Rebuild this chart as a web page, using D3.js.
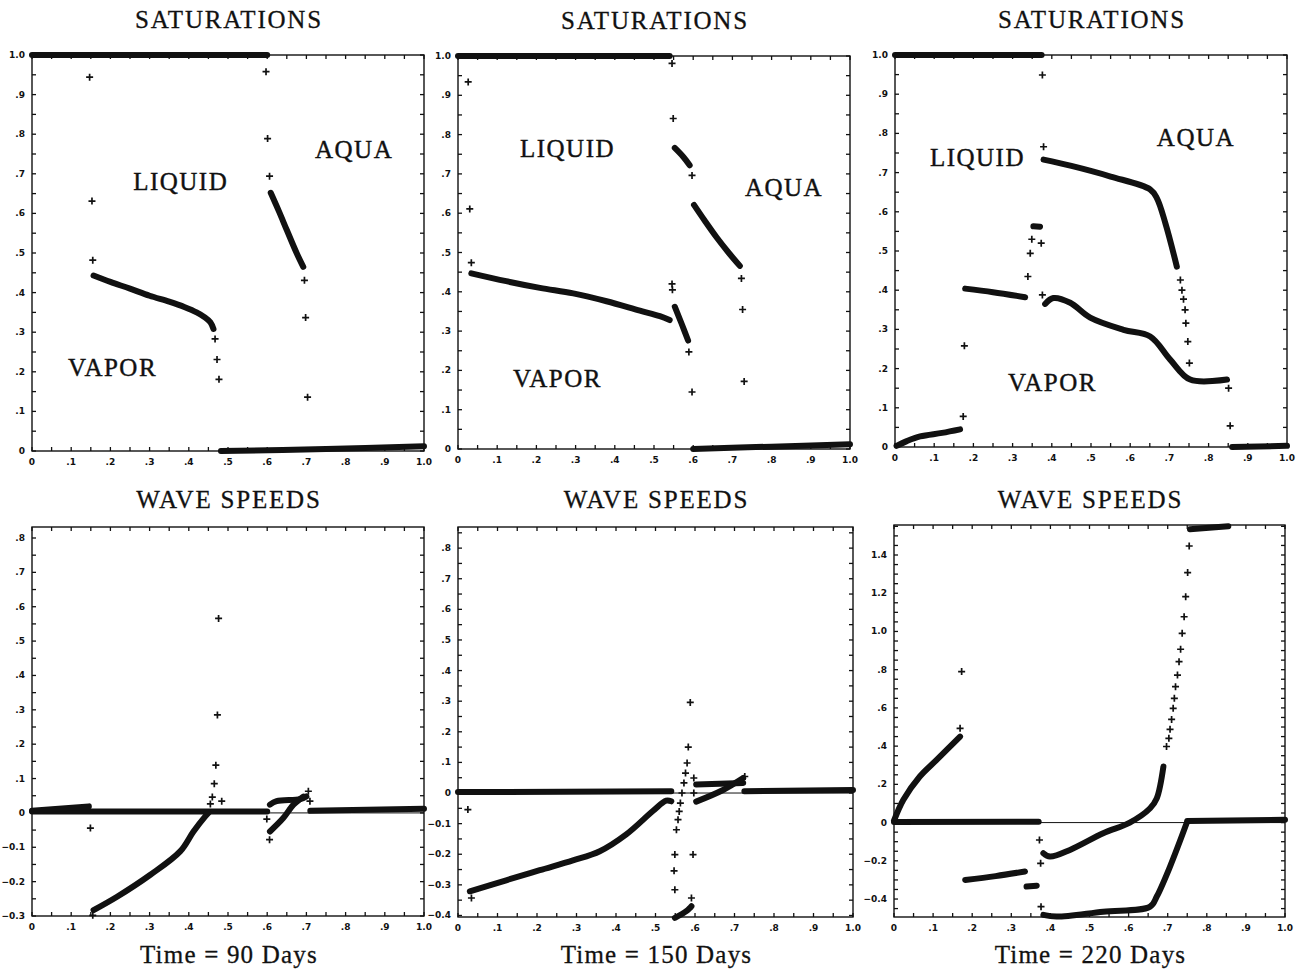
<!DOCTYPE html>
<html>
<head>
<meta charset="utf-8">
<script src="https://cdn.jsdelivr.net/npm/d3@7"></script>
<style>
  body { margin: 0; background: #fff; }
  text { fill: #111; }
</style>
</head>
<body>
<script>
// ---- data ----
// saturations, 90 days
var sat90Top = [[0, 1.0], [0.30, 1.0], [0.60, 1.0]];
var sat90Bottom = [[0.482, 0.0], [0.75, 0.005], [1.0, 0.012]];
var sat90Vapor = [[0.157, 0.443], [0.2, 0.427], [0.25, 0.41], [0.3, 0.392], [0.35, 0.377], [0.39, 0.363], [0.42, 0.35], [0.44, 0.338], [0.455, 0.325], [0.463, 0.308]];
var sat90Aqua = [[0.609, 0.652], [0.63, 0.605], [0.65, 0.558], [0.675, 0.50], [0.692, 0.465]];
var sat90Marks = [[0.147, 0.944], [0.153, 0.631], [0.155, 0.482], [0.467, 0.283], [0.472, 0.231], [0.477, 0.181], [0.597, 0.958], [0.601, 0.789], [0.606, 0.694], [0.695, 0.431], [0.698, 0.337], [0.703, 0.136]];

// saturations, 150 days
var sat150Top = [[0, 1.0], [0.54, 1.0]];
var sat150Bottom = [[0.60, 0.0], [0.8, 0.006], [1.0, 0.012]];
var sat150Vapor = [[0.034, 0.447], [0.123, 0.427], [0.209, 0.41], [0.294, 0.396], [0.379, 0.376], [0.464, 0.352], [0.515, 0.338], [0.54, 0.328]];
var sat150Mid = [[0.553, 0.362], [0.57, 0.32], [0.587, 0.276]];
var sat150Liquid = [[0.553, 0.766], [0.575, 0.743], [0.591, 0.722]];
var sat150Aqua = [[0.602, 0.621], [0.63, 0.58], [0.66, 0.538], [0.69, 0.5], [0.719, 0.466]];
var sat150Marks = [[0.026, 0.934], [0.030, 0.611], [0.034, 0.474], [0.546, 0.981], [0.549, 0.841], [0.546, 0.42], [0.547, 0.405], [0.589, 0.247], [0.597, 0.145], [0.597, 0.696], [0.723, 0.434], [0.726, 0.355], [0.730, 0.172]];

// saturations, 220 days
var sat220Top = [[0, 1.0], [0.374, 1.0]];
var sat220Bottom = [[0.86, 0.0], [1.0, 0.003]];
var sat220Low = [[0.004, 0.003], [0.03, 0.015], [0.064, 0.027], [0.12, 0.036], [0.166, 0.045]];
var sat220Vapor1 = [[0.179, 0.404], [0.25, 0.395], [0.332, 0.382]];
var sat220Blob = [[0.353, 0.563], [0.370, 0.562]];
var sat220Liquid = [[0.379, 0.733], [0.45, 0.717], [0.55, 0.69], [0.651, 0.657], [0.668, 0.635], [0.69, 0.57], [0.719, 0.46]];
var sat220Vapor2 = [[0.383, 0.365], [0.404, 0.38], [0.447, 0.368], [0.498, 0.33], [0.583, 0.299], [0.651, 0.282], [0.702, 0.223], [0.753, 0.172], [0.847, 0.172]];
var sat220Marks = [[0.174, 0.078], [0.177, 0.258], [0.339, 0.435], [0.345, 0.494], [0.349, 0.53], [0.373, 0.52], [0.376, 0.388], [0.376, 0.949], [0.379, 0.766], [0.728, 0.426], [0.732, 0.40], [0.736, 0.377], [0.740, 0.350], [0.742, 0.316], [0.747, 0.269], [0.751, 0.214], [0.851, 0.150], [0.855, 0.054]];

// wave speeds, 90 days
var ws90Base = [[0, 0.004], [0.6, 0.004]];
var ws90Wedge = [[0, 0.006], [0.145, 0.019]];
var ws90Right = [[0.71, 0.006], [1.0, 0.012]];
var ws90Curve = [[0.157, -0.283], [0.217, -0.244], [0.302, -0.18], [0.378, -0.112], [0.412, -0.054], [0.442, -0.01], [0.45, 0.0]];
var ws90Upper = [[0.607, 0.024], [0.624, 0.034], [0.684, 0.04], [0.70, 0.048]];
var ws90Lower = [[0.607, -0.054], [0.641, -0.015], [0.667, 0.024], [0.692, 0.047]];
var ws90Marks = [[0.149, -0.044], [0.155, -0.298], [0.476, 0.566], [0.473, 0.285], [0.469, 0.139], [0.465, 0.085], [0.46, 0.046], [0.455, 0.026], [0.484, 0.034], [0.599, -0.018], [0.606, -0.078], [0.705, 0.063], [0.709, 0.034]];

// wave speeds, 150 days
var ws150Base = [[0, 0.003], [0.54, 0.006]];
var ws150Right = [[0.725, 0.006], [1.0, 0.01]];
var ws150Curve = [[0.030, -0.321], [0.122, -0.285], [0.207, -0.252], [0.291, -0.22], [0.359, -0.19], [0.426, -0.135], [0.494, -0.058], [0.527, -0.025], [0.54, -0.027]];
var ws150Low = [[0.549, -0.408], [0.578, -0.386], [0.591, -0.37]];
var ws150Flat = [[0.603, 0.028], [0.722, 0.033]];
var ws150Rise = [[0.603, -0.028], [0.671, 0.01], [0.722, 0.049]];
var ws150Marks = [[0.025, -0.054], [0.034, -0.343], [0.549, -0.316], [0.547, -0.254], [0.549, -0.201], [0.553, -0.12], [0.557, -0.087], [0.56, -0.06], [0.563, -0.033], [0.567, 0], [0.572, 0.033], [0.576, 0.065], [0.58, 0.098], [0.583, 0.15], [0.588, 0.296], [0.597, 0.049], [0.597, 0.0], [0.595, -0.201], [0.591, -0.343], [0.726, 0.054]];

// wave speeds, 220 days
var ws220Base = [[0, 0.003], [0.37, 0.005]];
var ws220Right = [[0.75, 0.008], [1.0, 0.015]];
var ws220Rise = [[0.0, 0.01], [0.024, 0.119], [0.066, 0.241], [0.109, 0.328], [0.169, 0.45]];
var ws220Seg = [[0.182, -0.30], [0.26, -0.28], [0.335, -0.256]];
var ws220Blob = [[0.339, -0.335], [0.365, -0.33]];
var ws220Upper = [[0.382, -0.16], [0.399, -0.178], [0.45, -0.143], [0.535, -0.056], [0.603, 0], [0.655, 0.075], [0.672, 0.127], [0.689, 0.293]];
var ws220Flat = [[0.757, 1.535], [0.855, 1.55]];
var ws220Lower = [[0.382, -0.483], [0.416, -0.492], [0.535, -0.466], [0.655, -0.44], [0.672, -0.387], [0.706, -0.23], [0.749, 0.0]];
var ws220Marks = [[0.169, 0.493], [0.173, 0.79], [0.372, -0.091], [0.375, -0.213], [0.376, -0.44], [0.697, 0.398], [0.703, 0.441], [0.706, 0.488], [0.71, 0.54], [0.714, 0.598], [0.717, 0.65], [0.72, 0.711], [0.725, 0.772], [0.729, 0.842], [0.733, 0.907], [0.737, 0.99], [0.742, 1.077], [0.746, 1.182], [0.751, 1.308], [0.755, 1.447]];

// phase labels [text, x, y] in data units
var sat90Labels = [["AQUA", 0.722, 0.74], ["LIQUID", 0.258, 0.658], ["VAPOR", 0.092, 0.19]];
var sat150Labels = [["LIQUID", 0.158, 0.742], ["AQUA", 0.732, 0.645], ["VAPOR", 0.140, 0.158]];
var sat220Labels = [["LIQUID", 0.089, 0.716], ["AQUA", 0.668, 0.768], ["VAPOR", 0.288, 0.142]];

var panelTitles = ["SATURATIONS", "WAVE SPEEDS"];
var timeLabels = ["Time = 90 Days", "Time = 150 Days", "Time = 220 Days"];

// ---- layout ----
var W = 1304, H = 975;
var svg = d3.select("body").append("svg").attr("width", W).attr("height", H);

var panels = [
  {box: [32, 424, 55, 451], y: [0, 1], step: 0.1, lab: 0.1, lines: [sat90Top, sat90Bottom, sat90Vapor, sat90Aqua], marks: sat90Marks, labels: sat90Labels, title: panelTitles[0], titleY: 28, zero: false},
  {box: [458, 850, 56, 449], y: [0, 1], step: 0.1, lab: 0.1, lines: [sat150Top, sat150Bottom, sat150Vapor, sat150Mid, sat150Liquid, sat150Aqua], marks: sat150Marks, labels: sat150Labels, title: panelTitles[0], titleY: 29, zero: false},
  {box: [895, 1287, 55, 447], y: [0, 1], step: 0.1, lab: 0.1, lines: [sat220Top, sat220Bottom, sat220Low, sat220Vapor1, sat220Blob, sat220Liquid, sat220Vapor2], marks: sat220Marks, labels: sat220Labels, title: panelTitles[0], titleY: 28, zero: false},
  {box: [32, 424, 527, 916], y: [-0.3, 0.832], step: 0.1, lab: 0.1, lines: [ws90Base, ws90Wedge, ws90Right, ws90Curve, ws90Upper, ws90Lower], marks: ws90Marks, labels: [], title: panelTitles[1], titleY: 508, zero: true, time: timeLabels[0]},
  {box: [458, 853, 527, 917], y: [-0.405, 0.869], step: 0.1, lab: 0.1, lines: [ws150Base, ws150Right, ws150Curve, ws150Low, ws150Flat, ws150Rise], marks: ws150Marks, labels: [], title: panelTitles[1], titleY: 508, zero: true, time: timeLabels[1]},
  {box: [894, 1285, 525, 917], y: [-0.494, 1.557], step: 0.1, lab: 0.2, lines: [ws220Base, ws220Right, ws220Rise, ws220Seg, ws220Blob, ws220Upper, ws220Flat, ws220Lower], marks: ws220Marks, labels: [], title: panelTitles[1], titleY: 508, zero: true, time: timeLabels[2]}
];

// ".1" style tick labels
function fmt(v) {
  var s = d3.format(".1f")(v);
  if (s === "0.0" || s === "-0.0") return "0";
  return s.replace(/^(-?)0\./, "$1.");
}

var serif = "'Liberation Serif', 'Times New Roman', serif";

panels.forEach(function(p) {
  var x = d3.scaleLinear().domain([0, 1]).range([p.box[0], p.box[1]]);
  var y = d3.scaleLinear().domain(p.y).range([p.box[3], p.box[2]]);
  var g = svg.append("g");

  // frame
  g.append("rect")
    .attr("x", p.box[0]).attr("y", p.box[2])
    .attr("width", p.box[1] - p.box[0]).attr("height", p.box[3] - p.box[2])
    .attr("fill", "none").attr("stroke", "#111").attr("stroke-width", 1.4);

  // x ticks every .05 on bottom and top, labels every .1
  d3.range(0, 1.0001, 0.05).forEach(function(v) {
    g.append("line").attr("x1", x(v)).attr("x2", x(v)).attr("y1", p.box[3]).attr("y2", p.box[3] - 4).attr("stroke", "#111").attr("stroke-width", 1.3);
    g.append("line").attr("x1", x(v)).attr("x2", x(v)).attr("y1", p.box[2]).attr("y2", p.box[2] + 4).attr("stroke", "#111").attr("stroke-width", 1.3);
  });
  d3.range(0, 1.0001, 0.1).forEach(function(v) {
    g.append("text").attr("x", x(v)).attr("y", p.box[3] + 14)
      .attr("text-anchor", "middle").attr("font-family", "'DejaVu Sans', sans-serif")
      .attr("font-size", 9).attr("font-weight", "bold").text(fmt(v));
  });

  // y ticks
  var y0 = Math.ceil(p.y[0] / (p.step / 2) - 1e-6) * (p.step / 2);
  d3.range(y0, p.y[1] + 1e-6, p.step / 2).forEach(function(v) {
    g.append("line").attr("x1", p.box[0]).attr("x2", p.box[0] + 4).attr("y1", y(v)).attr("y2", y(v)).attr("stroke", "#111").attr("stroke-width", 1.3);
    g.append("line").attr("x1", p.box[1]).attr("x2", p.box[1] - 4).attr("y1", y(v)).attr("y2", y(v)).attr("stroke", "#111").attr("stroke-width", 1.3);
  });
  var l0 = Math.ceil(p.y[0] / p.lab - 1e-6) * p.lab;
  d3.range(l0, p.y[1] + 1e-6, p.lab).forEach(function(v) {
    g.append("text").attr("x", p.box[0] - 7).attr("y", y(v) + 3)
      .attr("text-anchor", "end").attr("font-family", "'DejaVu Sans', sans-serif")
      .attr("font-size", 9).attr("font-weight", "bold").text(fmt(v));
  });

  // thin zero line on wave speed plots
  if (p.zero) {
    g.append("line").attr("x1", p.box[0]).attr("x2", p.box[1]).attr("y1", y(0)).attr("y2", y(0))
      .attr("stroke", "#111").attr("stroke-width", 1);
  }

  // dense "+" bands drawn as thick curves
  var line = d3.line().x(function(d) { return x(d[0]); }).y(function(d) { return y(d[1]); })
    .curve(d3.curveCatmullRom);
  g.selectAll("path.band").data(p.lines).enter().append("path")
    .attr("class", "band").attr("d", line)
    .attr("fill", "none").attr("stroke", "#111").attr("stroke-width", 6)
    .attr("stroke-linecap", "round").attr("stroke-linejoin", "round");

  // isolated "+" markers
  g.selectAll("path.plus").data(p.marks).enter().append("path")
    .attr("class", "plus")
    .attr("d", function(d) { var a = x(d[0]), b = y(d[1]); return "M" + (a - 3.5) + "," + b + "H" + (a + 3.5) + "M" + a + "," + (b - 3.5) + "V" + (b + 3.5); })
    .attr("stroke", "#111").attr("stroke-width", 1.7);

  // phase labels
  g.selectAll("text.phase").data(p.labels).enter().append("text")
    .attr("class", "phase")
    .attr("x", function(d) { return x(d[1]); }).attr("y", function(d) { return y(d[2]); })
    .attr("font-family", serif).attr("font-size", 25).attr("letter-spacing", 1.5)
    .attr("stroke", "#111").attr("stroke-width", 0.4)
    .text(function(d) { return d[0]; });

  // title above panel
  var cx = (p.box[0] + p.box[1]) / 2 + 1;
  g.append("text").attr("x", cx).attr("y", p.titleY)
    .attr("text-anchor", "middle").attr("font-family", serif)
    .attr("font-size", 25).attr("letter-spacing", 1.8)
    .attr("stroke", "#111").attr("stroke-width", 0.3).text(p.title);

  if (p.time) {
    g.append("text").attr("x", cx).attr("y", 963)
      .attr("text-anchor", "middle").attr("font-family", serif)
      .attr("font-size", 25).attr("letter-spacing", 1.2)
      .attr("stroke", "#111").attr("stroke-width", 0.3).text(p.time);
  }
});
</script>
</body>
</html>
